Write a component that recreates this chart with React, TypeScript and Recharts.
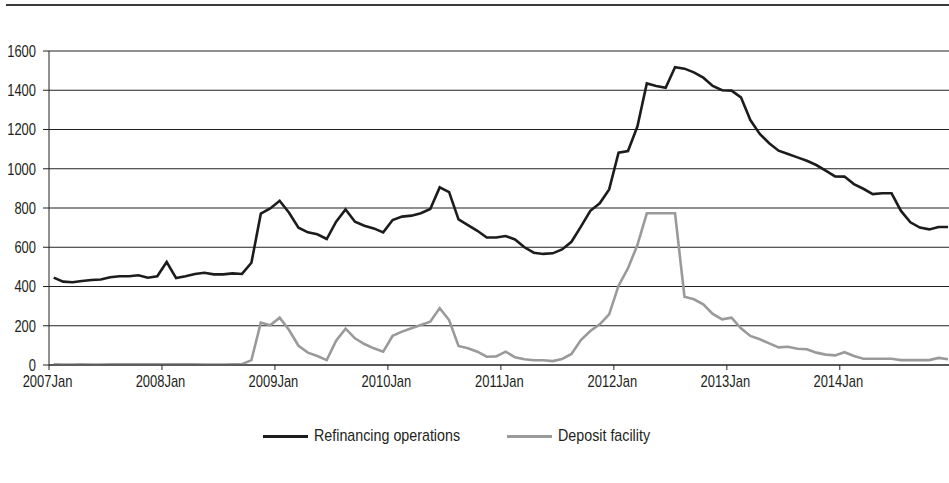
import { LineChart, Line, XAxis, YAxis, CartesianGrid } from "recharts";

const yearLabels = ["2007Jan", "2008Jan", "2009Jan", "2010Jan", "2011Jan", "2012Jan", "2013Jan", "2014Jan"];
const yTicks = [0, 200, 400, 600, 800, 1000, 1200, 1400, 1600];

// monthly, 2007 Jan .. 2014 Dec
const refinancing = [
  445, 425, 422, 428, 433, 436, 447, 452, 452, 457, 445, 452,
  525, 443, 452, 464, 470, 462, 462, 467, 464, 521, 771, 798,
  837, 776, 700, 676, 666, 642, 730, 793, 730, 710, 696, 676,
  739, 756, 761, 773, 795, 905, 881, 742, 713, 684, 650, 650,
  657, 640, 600, 572, 566, 569, 589, 628, 705, 786, 824, 895,
  1082, 1090, 1215, 1435, 1422, 1413, 1518, 1510, 1491, 1464, 1422, 1400,
  1398, 1364, 1248, 1177, 1130, 1092, 1075, 1058, 1041, 1019, 990, 961,
  960, 922, 898, 871, 875, 875, 785, 727, 700, 691, 703, 703,
];
const deposit = [
  3, 2, 2, 3, 2, 2, 3, 3, 4, 3, 3, 4,
  3, 3, 3, 3, 2, 2, 2, 3, 4, 25, 216, 202,
  241, 178, 98, 63, 46, 25, 124, 185, 136, 107, 85, 68,
  149, 170, 187, 204, 221, 290, 229, 97, 85, 68, 42, 44,
  68, 39, 29, 24, 24, 20, 31, 56, 127, 173, 207, 258,
  404, 493, 611, 773, 773, 773, 773, 348, 335, 309, 260, 233,
  241, 187, 148, 131, 110, 90, 93, 83, 80, 63, 53, 49,
  65, 46, 32, 32, 32, 32, 25, 25, 25, 25, 36, 29,
];

const data = refinancing.map((v, i) => ({ i, refinancing: v, deposit: deposit[i] }));
const xTicks = yearLabels.map((_, k) => k * 12 - 0.5);

const font = "'Liberation Sans', Arial, sans-serif";
const ink = "#231f20";

// narrow look of the original condensed face
function YTick({ x, y, payload }: any) {
  return (
    <g transform={`translate(${x},${y})`}>
      <text transform="scale(0.81,1)" textAnchor="end" y={5.8} fontSize={16} fontFamily={font} fill={ink}>
        {payload.value}
      </text>
    </g>
  );
}

function XTick({ x, y, payload }: any) {
  const label = yearLabels[Math.round((payload.value + 0.5) / 12)];
  return (
    <g transform={`translate(${x - 1.5},${y})`}>
      <text transform="scale(0.81,1)" textAnchor="middle" y={15} fontSize={16} fontFamily={font} fill={ink}>
        {label}
      </text>
    </g>
  );
}

const legendText = {
  position: "absolute" as const, top: 426, fontFamily: font, fontSize: 17, color: ink,
  transform: "scaleX(0.84)", transformOrigin: "left center", whiteSpace: "nowrap" as const, lineHeight: "20px",
};

export default function App() {
  return (
    <div style={{ position: "absolute", left: 0, top: 0, width: 949, height: 483, background: "#fff" }}>
      <div style={{ position: "absolute", left: 6, top: 4, width: 943, height: 2, background: "#3a3a3a" }} />
      <LineChart width={949} height={483} data={data} margin={{ top: 51, right: 0, bottom: 88, left: 0 }}>
        <CartesianGrid vertical={false} stroke="#222" strokeWidth={1.2} />
        <XAxis
          dataKey="i"
          type="number"
          domain={[-0.5, 95.1]}
          allowDataOverflow
          ticks={xTicks}
          interval={0}
          stroke="#222"
          tickSize={5}
          tickMargin={2}
          height={30}
          tick={<XTick />}
        />
        <YAxis
          domain={[0, 1600]}
          ticks={yTicks}
          interval={0}
          width={49}
          stroke="#222"
          tickSize={6}
          tickMargin={7}
          tick={<YTick />}
        />
        <Line dataKey="refinancing" stroke="#1e1b1c" strokeWidth={2.6} dot={false} isAnimationActive={false} />
        <Line dataKey="deposit" stroke="#9a9a9a" strokeWidth={2.6} dot={false} isAnimationActive={false} />
      </LineChart>
      <div style={{ position: "absolute", left: 263, top: 435, width: 45, height: 3, background: "#1e1b1c" }} />
      <div style={{ ...legendText, left: 314 }}>Refinancing operations</div>
      <div style={{ position: "absolute", left: 507, top: 435, width: 45, height: 3, background: "#9a9a9a" }} />
      <div style={{ ...legendText, left: 558 }}>Deposit facility</div>
    </div>
  );
}
